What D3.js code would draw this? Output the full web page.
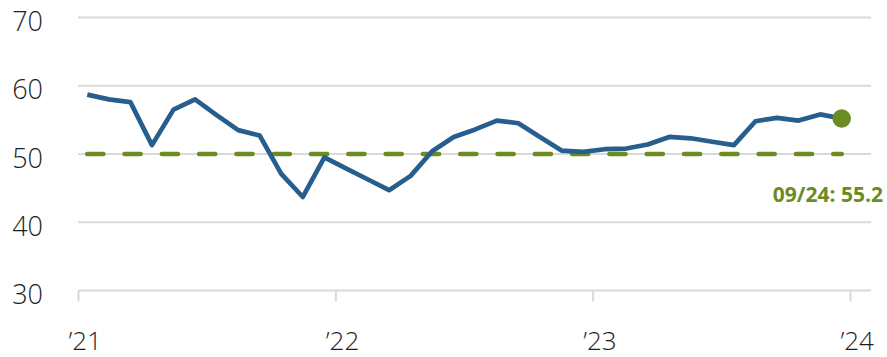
<!DOCTYPE html>
<html>
<head>
<meta charset="utf-8">
<script src="https://cdn.jsdelivr.net/npm/d3@7"></script>
<style>
  html, body { margin: 0; padding: 0; background: #fff; }
  svg { display: block; }
  .ylab, .xlab { font-family: "Open Sans", sans-serif; font-weight: 300; fill: #1e1e1e; }
</style>
</head>
<body>
<svg id="chart" width="887" height="357"></svg>
<script>
// Monthly index readings
const values = [
  58.7, 58.0, 57.6, 51.3, 56.5, 58.0, 55.7, 53.5, 52.7, 47.1,
  43.7, 49.5, 47.9, 46.3, 44.7, 46.8, 50.4, 52.5, 53.6, 54.9,
  54.5, 52.5, 50.5, 50.3, 50.7, 50.8, 51.4, 52.5, 52.3, 51.8,
  51.3, 54.8, 55.3, 54.9, 55.8, 55.2
];
const threshold = 50;
const yTicks = [30, 40, 50, 60, 70];
const xTickYears = [2021, 2022, 2023, 2024];
const xTickLabels = ["\u201921", "\u201922", "\u201923", "\u201924"];
const lastLabel = "09/24";

const svg = d3.select("#chart");
const blue = "#285e8e";
const green = "#6a8c21";
const gridColor = "#d9d9d9";

const gridLeft = 78, gridRight = 871;

const y = d3.scaleLinear().domain([30, 70]).range([290.5, 17.5]);
const x = d3.scaleLinear().domain([0, values.length - 1]).range([87.3, 841.7]);
const xYear = d3.scaleLinear().domain([2021, 2024]).range([78, 850]);

// Horizontal gridlines
svg.append("g")
  .selectAll("line")
  .data(yTicks)
  .join("line")
  .attr("x1", gridLeft).attr("x2", gridRight)
  .attr("y1", d => y(d)).attr("y2", d => y(d))
  .attr("stroke", gridColor).attr("stroke-width", 2);

// Y labels
svg.append("g")
  .selectAll("text")
  .data(yTicks)
  .join("text")
  .attr("class", "ylab")
  .attr("x", 43)
  .attr("y", d => y(d) + 3)
  .attr("text-anchor", "end")
  .attr("dominant-baseline", "central")
  .attr("font-size", 27)
  .text(d => d);

// X axis ticks and labels
const xAxis = d3.axisBottom(xYear)
  .tickValues(xTickYears)
  .tickSize(11)
  .tickFormat((d, i) => xTickLabels[i]);
const gx = svg.append("g")
  .attr("transform", `translate(0,${y(30)})`)
  .call(xAxis);
gx.select(".domain").remove();
gx.selectAll(".tick line").attr("stroke", gridColor).attr("stroke-width", 2);
gx.selectAll(".tick text")
  .attr("class", "xlab")
  .attr("font-size", 26)
  .attr("text-anchor", "start")
  .attr("x", -10)
  .attr("y", 59.5)
  .attr("dy", 0)
  .style("font-family", "'Open Sans', sans-serif")
  .style("font-weight", 300)
  .attr("fill", "#1e1e1e");

// Threshold line at 50
svg.append("line")
  .attr("x1", x(0)).attr("x2", x(values.length - 1))
  .attr("y1", y(threshold)).attr("y2", y(threshold))
  .attr("stroke", green)
  .attr("stroke-width", 4.7)
  .attr("stroke-linecap", "round")
  .attr("stroke-dasharray", "16 21.3");

// Index line
const line = d3.line().x((d, i) => x(i)).y(d => y(d));
svg.append("path")
  .datum(values)
  .attr("d", line)
  .attr("fill", "none")
  .attr("stroke", blue)
  .attr("stroke-width", 4.7)
  .attr("stroke-linejoin", "round");

// Latest value marker and label
const last = values.length - 1;
svg.append("circle")
  .attr("cx", x(last)).attr("cy", y(values[last]))
  .attr("r", 9.3)
  .attr("fill", green);

svg.append("text")
  .attr("x", 883)
  .attr("y", 202)
  .attr("text-anchor", "end")
  .attr("font-family", "'Open Sans', sans-serif")
  .attr("font-weight", 700)
  .attr("font-size", 21)
  .attr("fill", green)
  .text(`${lastLabel}: ${values[last]}`);
</script>
</body>
</html>
